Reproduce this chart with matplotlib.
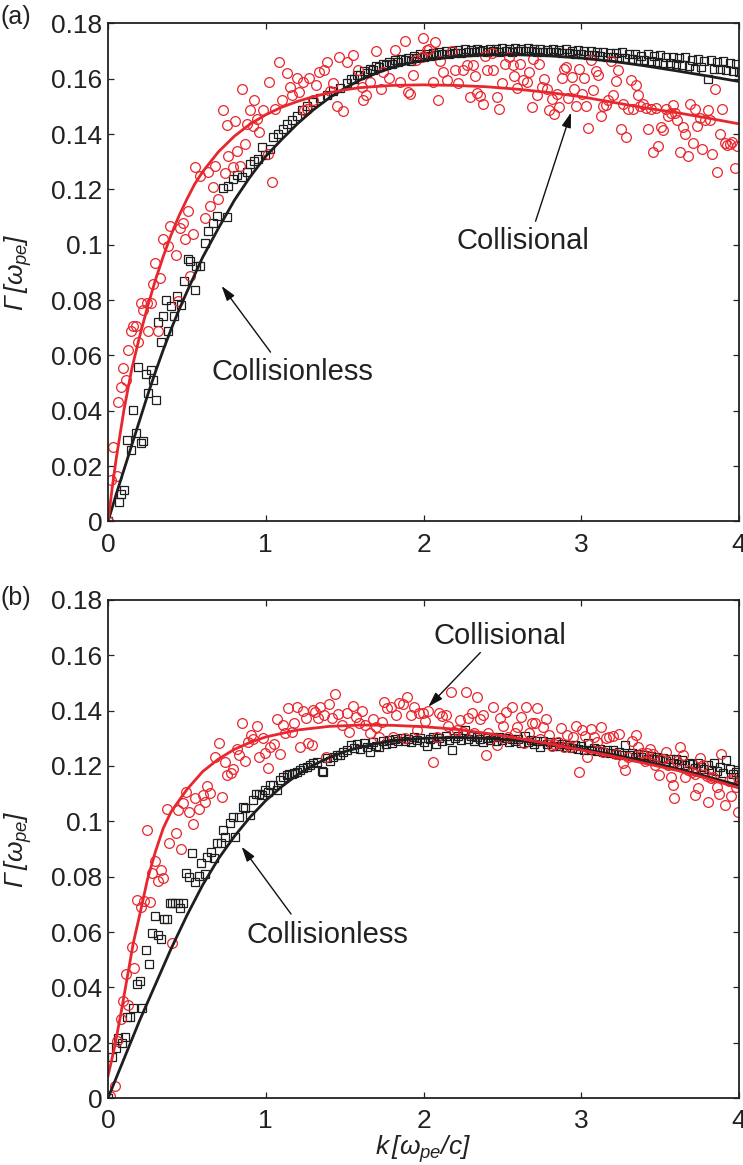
import matplotlib
matplotlib.use("Agg")
import matplotlib.pyplot as plt
from matplotlib.ticker import FixedLocator, FixedFormatter

plt.rcParams['font.family'] = ['Liberation Sans', 'DejaVu Sans']
# axis labels are all italic symbols, so the math "roman" face is the italic one
plt.rcParams['mathtext.fontset'] = 'custom'
plt.rcParams['mathtext.rm'] = 'Liberation Sans:italic'
plt.rcParams['mathtext.it'] = 'Liberation Sans:italic'
plt.rcParams['mathtext.bf'] = 'Liberation Sans:bold'

RED = '#e8262d'
BLACK = '#1e1e1e'

# ---------------------------------------------------------------- panel (a)
# fitted growth-rate curves
fit_a_free_k = [0, 0.05, 0.1, 0.15, 0.2, 0.25, 0.3, 0.35, 0.4, 0.45, 0.5, 0.6, 0.7,
                0.8, 0.9, 1.0, 1.1, 1.2, 1.3, 1.4, 1.5, 1.6, 1.7, 1.8, 1.9, 2.0,
                2.2, 2.4, 2.6, 2.8, 3.0, 3.2, 3.4, 3.6, 3.8, 4.0]
fit_a_free = [0, 0.0095, 0.0185, 0.0275, 0.0365, 0.0455, 0.054, 0.062, 0.0695, 0.0765,
              0.083, 0.0955, 0.106, 0.116, 0.1245, 0.132, 0.138, 0.1437, 0.1487, 0.153,
              0.1566, 0.1596, 0.162, 0.164, 0.1655, 0.1666, 0.168, 0.1686, 0.1687,
              0.1683, 0.1675, 0.1663, 0.1647, 0.1629, 0.161, 0.159]

fit_a_coll_k = [0, 0.025, 0.05, 0.1, 0.15, 0.2, 0.25, 0.3, 0.35, 0.4, 0.45, 0.5, 0.55,
                0.6, 0.7, 0.8, 0.9, 1.0, 1.1, 1.2, 1.3, 1.4, 1.5, 1.6, 1.8, 2.0, 2.2,
                2.4, 2.6, 2.8, 3.0, 3.2, 3.4, 3.6, 3.8, 4.0]
fit_a_coll = [0, 0.0115, 0.022, 0.040, 0.055, 0.0668, 0.0775, 0.0872, 0.0958, 0.1036,
              0.1105, 0.1165, 0.1220, 0.1264, 0.1336, 0.1392, 0.1436, 0.1470, 0.1497,
              0.1518, 0.1535, 0.1549, 0.1560, 0.1568, 0.1576, 0.1578, 0.1576, 0.1571,
              0.1562, 0.155, 0.1535, 0.1515, 0.1495, 0.1478, 0.1458, 0.1437]

# simulation points, collisionless (squares)
sim_a_free_k = [0.0, 0.070, 0.080, 0.101, 0.118, 0.148, 0.160, 0.175, 0.192, 0.211,
                0.224, 0.239, 0.254, 0.270, 0.287, 0.302, 0.317, 0.334, 0.351, 0.366,
                0.380, 0.397, 0.418, 0.440, 0.465, 0.482, 0.509, 0.520, 0.552, 0.556,
                0.583, 0.615, 0.636, 0.668, 0.689, 0.727, 0.755, 0.763, 0.794, 0.816,
                0.847, 0.879, 0.900, 0.926, 0.953, 0.974, 0.995, 1.027, 1.048, 1.080,
                1.107, 1.137, 1.164, 1.196, 1.228, 1.260, 1.301, 1.344, 1.386, 1.428,
                1.471, 1.513]
sim_a_free = [0.0, 0.0070, 0.0100, 0.0115, 0.0294, 0.0260, 0.0403, 0.0320, 0.0557, 0.0284,
              0.0290, 0.0534, 0.0463, 0.0546, 0.0512, 0.0439, 0.0720, 0.0647, 0.0742, 0.0802,
              0.0687, 0.0778, 0.0742, 0.0814, 0.0784, 0.0869, 0.0947, 0.0940, 0.0838, 0.0925,
              0.0923, 0.1008, 0.1050, 0.1080, 0.1105, 0.1204, 0.1099, 0.1213, 0.1238, 0.1252,
              0.1244, 0.1262, 0.1292, 0.1304, 0.1310, 0.1353, 0.1325, 0.1347, 0.1389, 0.1401,
              0.1419, 0.1437, 0.1450, 0.1467, 0.1486, 0.1502, 0.1516, 0.1531, 0.1543, 0.1555,
              0.1567, 0.1583]

# k grid of the dense part of the collisionless runs (both panels)
k_tail = [1.54, 1.56, 1.58, 1.60, 1.62, 1.64, 1.66, 1.68, 1.70, 1.72, 1.74, 1.76, 1.78,
          1.80, 1.82, 1.84, 1.86, 1.88, 1.90, 1.92, 1.94, 1.96, 1.98, 2.00, 2.02, 2.04,
          2.06, 2.08, 2.10, 2.12, 2.14, 2.16, 2.18, 2.20, 2.22, 2.24, 2.26, 2.28, 2.30,
          2.32, 2.34, 2.36, 2.38, 2.40, 2.42, 2.44, 2.46, 2.48, 2.50, 2.52, 2.54, 2.56,
          2.58, 2.60, 2.62, 2.64, 2.66, 2.68, 2.70, 2.72, 2.74, 2.76, 2.78, 2.80, 2.82,
          2.84, 2.86, 2.88, 2.90, 2.92, 2.94, 2.96, 2.98, 3.00, 3.02, 3.04, 3.06, 3.08,
          3.10, 3.12, 3.14, 3.16, 3.18, 3.20, 3.22, 3.24, 3.26, 3.28, 3.30, 3.32, 3.34,
          3.36, 3.38, 3.40, 3.42, 3.44, 3.46, 3.48, 3.50, 3.52, 3.54, 3.56, 3.58, 3.60,
          3.62, 3.64, 3.66, 3.68, 3.70, 3.72, 3.74, 3.76, 3.78, 3.80, 3.82, 3.84, 3.86,
          3.88, 3.90, 3.92, 3.94, 3.96, 3.98, 4.00]
sim_a_free_tail = [0.1600, 0.1598, 0.1615, 0.1612, 0.1628, 0.1622, 0.1637, 0.1633, 0.1645,
                   0.1641, 0.1652, 0.1648, 0.1660, 0.1655, 0.1667, 0.1660, 0.1672, 0.1668,
                   0.1676, 0.1664, 0.1681, 0.1675, 0.1688, 0.1679, 0.1690, 0.1683, 0.1694,
                   0.1686, 0.1697, 0.1688, 0.1700, 0.1690, 0.1701, 0.1692, 0.1703, 0.1694,
                   0.1706, 0.1697, 0.1704, 0.1695, 0.1708, 0.1699, 0.1705, 0.1696, 0.1709,
                   0.1700, 0.1706, 0.1698, 0.1711, 0.1701, 0.1707, 0.1697, 0.1710, 0.1702,
                   0.1708, 0.1699, 0.1712, 0.1700, 0.1706, 0.1697, 0.1709, 0.1698, 0.1705,
                   0.1696, 0.1707, 0.1695, 0.1704, 0.1693, 0.1706, 0.1692, 0.1701, 0.1690,
                   0.1703, 0.1688, 0.1699, 0.1687, 0.1702, 0.1685, 0.1696, 0.1683, 0.1698,
                   0.1680, 0.1694, 0.1679, 0.1692, 0.1676, 0.1695, 0.1674, 0.1688, 0.1671,
                   0.1691, 0.1668, 0.1684, 0.1666, 0.1688, 0.1664, 0.1681, 0.1661, 0.1685,
                   0.1658, 0.1677, 0.1656, 0.1680, 0.1652, 0.1674, 0.1650, 0.1677, 0.1647,
                   0.1669, 0.1636, 0.1672, 0.1643, 0.1664, 0.1600, 0.1666, 0.1637, 0.1660,
                   0.1634, 0.1663, 0.1631, 0.1656, 0.1628, 0.1652, 0.1626]

# simulation points, collisional (circles)
sim_a_coll_k = [0.000, 0.017, 0.034, 0.055, 0.065, 0.080, 0.097, 0.112, 0.127, 0.144,
                0.160, 0.180, 0.190, 0.207, 0.224, 0.245, 0.254, 0.270, 0.287, 0.298,
                0.317, 0.330, 0.347, 0.382, 0.393, 0.431, 0.444, 0.456, 0.477, 0.488,
                0.509, 0.520, 0.541, 0.552, 0.583, 0.615, 0.636, 0.647, 0.663, 0.678,
                0.700, 0.727, 0.742, 0.757, 0.763, 0.790, 0.805, 0.816, 0.837, 0.851,
                0.868, 0.879, 0.900, 0.917, 0.927, 0.943, 0.959, 0.985, 1.016, 1.023,
                1.038, 1.059, 1.086, 1.101, 1.133, 1.154, 1.164, 1.196, 1.213, 1.238,
                1.242, 1.259, 1.276, 1.301, 1.319, 1.338, 1.369, 1.386, 1.407, 1.428,
                1.449, 1.466, 1.491, 1.513, 1.555, 1.587, 1.608, 1.619, 1.636, 1.661,
                1.699, 1.728, 1.745, 1.783, 1.819, 1.851, 1.883, 1.904, 1.914, 1.935,
                1.952, 1.988, 1.995, 2.020, 2.037, 2.058, 2.073, 2.090, 2.105, 2.125,
                2.147, 2.179, 2.200, 2.221, 2.252, 2.274, 2.295, 2.312, 2.326, 2.341,
                2.358, 2.375, 2.390, 2.400, 2.432, 2.442, 2.464, 2.481, 2.496, 2.517,
                2.544, 2.569, 2.574, 2.590, 2.612, 2.629, 2.654, 2.671, 2.686, 2.696,
                2.718, 2.734, 2.749, 2.764, 2.781, 2.797, 2.813, 2.827, 2.844, 2.861,
                2.876, 2.891, 2.903, 2.918, 2.939, 2.954, 2.967, 2.988, 3.003, 3.017,
                3.030, 3.045, 3.060, 3.077, 3.093, 3.108, 3.123, 3.140, 3.157, 3.172,
                3.187, 3.203, 3.220, 3.235, 3.250, 3.267, 3.284, 3.298, 3.313, 3.330,
                3.347, 3.358, 3.372, 3.393, 3.410, 3.425, 3.440, 3.457, 3.474, 3.489,
                3.504, 3.521, 3.535, 3.552, 3.567, 3.580, 3.594, 3.609, 3.626, 3.643,
                3.658, 3.675, 3.689, 3.707, 3.721, 3.736, 3.753, 3.767, 3.785, 3.800,
                3.816, 3.831, 3.848, 3.862, 3.880, 3.894, 3.911, 3.926, 3.943, 3.958,
                3.975, 3.989]
sim_a_coll = [0.0000, 0.0149, 0.0270, 0.0163, 0.0430, 0.0487, 0.0554, 0.0512, 0.0621, 0.0687,
              0.0705, 0.0708, 0.0650, 0.0790, 0.0763, 0.0788, 0.0687, 0.0790, 0.0860, 0.0935,
              0.0690, 0.0880, 0.1020, 0.0996, 0.1068, 0.0962, 0.0796, 0.1062, 0.1080, 0.1020,
              0.1123, 0.0887, 0.1038, 0.1280, 0.1250, 0.1095, 0.1262, 0.1139, 0.1208, 0.1286,
              0.1165, 0.1486, 0.1260, 0.1434, 0.1322, 0.1280, 0.1446, 0.1340, 0.1286, 0.1564,
              0.1364, 0.1437, 0.1486, 0.1431, 0.1522, 0.1456, 0.1407, 0.1486, 0.1329, 0.1589,
              0.1226, 0.1492, 0.1661, 0.1522, 0.1619, 0.1570, 0.1540, 0.1601, 0.1553, 0.1589,
              0.1486, 0.1492, 0.1601, 0.1522, 0.1577, 0.1625, 0.1631, 0.1659, 0.1555, 0.1586,
              0.1502, 0.1680, 0.1482, 0.1661, 0.1685, 0.1631, 0.1570, 0.1525, 0.1540, 0.1589,
              0.1700, 0.1562, 0.1625, 0.1603, 0.1704, 0.1589, 0.1736, 0.1553, 0.1546, 0.1615,
              0.1667, 0.1680, 0.1746, 0.1704, 0.1707, 0.1589, 0.1734, 0.1522, 0.1664, 0.1623,
              0.1595, 0.1700, 0.1631, 0.1586, 0.1631, 0.1649, 0.1534, 0.1649, 0.1611, 0.1550,
              0.1538, 0.1510, 0.1683, 0.1631, 0.1692, 0.1631, 0.1534, 0.1492, 0.1583, 0.1655,
              0.1678, 0.1649, 0.1611, 0.1567, 0.1655, 0.1595, 0.1589, 0.1625, 0.1498, 0.1671,
              0.1543, 0.1652, 0.1570, 0.1598, 0.1562, 0.1486, 0.1526, 0.1474, 0.1546, 0.1498,
              0.1603, 0.1634, 0.1643, 0.1531, 0.1607, 0.1562, 0.1502, 0.1637, 0.1546, 0.1603,
              0.1502, 0.1422, 0.1667, 0.1558, 0.1627, 0.1613, 0.1465, 0.1502, 0.1506, 0.1522,
              0.1664, 0.1543, 0.1591, 0.1631, 0.1417, 0.1510, 0.1389, 0.1492, 0.1595, 0.1492,
              0.1579, 0.1543, 0.1502, 0.1510, 0.1494, 0.1419, 0.1492, 0.1335, 0.1494, 0.1356,
              0.1425, 0.1413, 0.1492, 0.1465, 0.1477, 0.1506, 0.1477, 0.1450, 0.1335, 0.1425,
              0.1401, 0.1322, 0.1510, 0.1368, 0.1492, 0.1429, 0.1458, 0.1347, 0.1450, 0.1486,
              0.1450, 0.1329, 0.1562, 0.1262, 0.1401, 0.1489, 0.1368, 0.1361, 0.1365, 0.1373,
              0.1277, 0.1356]

# ---------------------------------------------------------------- panel (b)
fit_b_free_k = [0, 0.1, 0.2, 0.3, 0.4, 0.5, 0.6, 0.7, 0.8, 0.9, 1.0, 1.1, 1.2, 1.3,
                1.4, 1.5, 1.6, 1.7, 1.8, 1.9, 2.0, 2.2, 2.4, 2.6, 2.8, 3.0, 3.2, 3.4,
                3.6, 3.8, 4.0]
fit_b_free = [0, 0.014, 0.028, 0.041, 0.054, 0.066, 0.077, 0.0865, 0.0945, 0.1015, 0.1075,
              0.1125, 0.1168, 0.1203, 0.123, 0.1252, 0.1268, 0.1281, 0.129, 0.1296, 0.13,
              0.1303, 0.13, 0.1292, 0.1279, 0.1262, 0.1241, 0.1217, 0.1191, 0.1161, 0.113]

fit_b_coll_k = [0.0, 0.04, 0.08, 0.12, 0.16, 0.2, 0.25, 0.3, 0.35, 0.4, 0.5, 0.6, 0.7,
                0.8, 0.9, 1.0, 1.2, 1.4, 1.6, 1.8, 2.0, 2.2, 2.4, 2.6, 2.8, 3.0, 3.2,
                3.4, 3.6, 3.8, 4.0]
fit_b_coll = [0.008, 0.018, 0.030, 0.043, 0.056, 0.066, 0.079, 0.089, 0.0975, 0.1035, 0.1115,
              0.118, 0.1225, 0.126, 0.1285, 0.1305, 0.133, 0.1343, 0.1348, 0.1347, 0.1342,
              0.1333, 0.1318, 0.13, 0.128, 0.1258, 0.1235, 0.121, 0.1185, 0.1155, 0.112]

sim_b_free_k = [0.000, 0.027, 0.049, 0.063, 0.091, 0.106, 0.122, 0.139, 0.160, 0.182,
                0.201, 0.217, 0.239, 0.260, 0.281, 0.296, 0.319, 0.338, 0.355, 0.376,
                0.393, 0.408, 0.423, 0.444, 0.456, 0.477, 0.493, 0.513, 0.535, 0.549,
                0.577, 0.592, 0.613, 0.630, 0.651, 0.672, 0.689, 0.714, 0.731, 0.742,
                0.773, 0.794, 0.805, 0.832, 0.858, 0.868, 0.900, 0.921, 0.940, 0.959,
                0.974, 0.995, 1.016, 1.027, 1.044, 1.069, 1.090, 1.111, 1.133, 1.150,
                1.164, 1.179, 1.196, 1.217, 1.238, 1.260, 1.280, 1.302, 1.323, 1.355,
                1.365, 1.386, 1.407, 1.428, 1.450, 1.471, 1.492, 1.513]
sim_b_free = [0.0000, 0.0147, 0.0180, 0.0216, 0.0200, 0.0219, 0.0292, 0.0292, 0.0326, 0.0412,
              0.0424, 0.0326, 0.0535, 0.0483, 0.0598, 0.0658, 0.0589, 0.0574, 0.0646, 0.0646,
              0.0704, 0.0706, 0.0704, 0.0706, 0.0686, 0.0704, 0.0815, 0.0798, 0.0887, 0.0782,
              0.0803, 0.0848, 0.0810, 0.0870, 0.0890, 0.0866, 0.0921, 0.0921, 0.0969, 0.0945,
              0.0993, 0.1017, 0.0945, 0.1017, 0.1053, 0.1047, 0.1023, 0.1077, 0.1100, 0.1099,
              0.1095, 0.1113, 0.1107, 0.1131, 0.1131, 0.1113, 0.1150, 0.1161, 0.1168, 0.1170,
              0.1172, 0.1174, 0.1180, 0.1186, 0.1192, 0.1198, 0.1204, 0.1210, 0.1216, 0.1183,
              0.1180, 0.1228, 0.1219, 0.1234, 0.1238, 0.1240, 0.1250, 0.1258]
sim_b_free_tail = [0.1275, 0.1266, 0.1279, 0.1262, 0.1282, 0.1268, 0.1252, 0.1285, 0.1273,
                   0.1270, 0.1290, 0.1281, 0.1294, 0.1284, 0.1298, 0.1289, 0.1302, 0.1291,
                   0.1298, 0.1286, 0.1306, 0.1295, 0.1301, 0.1288, 0.1272, 0.1299, 0.1305,
                   0.1280, 0.1302, 0.1291, 0.1308, 0.1295, 0.1256, 0.1301, 0.1310, 0.1293,
                   0.1330, 0.1298, 0.1307, 0.1290, 0.1304, 0.1296, 0.1288, 0.1302, 0.1295,
                   0.1306, 0.1291, 0.1306, 0.1293, 0.1300, 0.1286, 0.1298, 0.1290, 0.1296,
                   0.1283, 0.1310, 0.1288, 0.1294, 0.1281, 0.1292, 0.1270, 0.1289, 0.1279,
                   0.1286, 0.1274, 0.1285, 0.1271, 0.1280, 0.1268, 0.1277, 0.1265, 0.1276,
                   0.1262, 0.1272, 0.1259, 0.1282, 0.1257, 0.1266, 0.1253, 0.1262, 0.1250,
                   0.1259, 0.1247, 0.1256, 0.1244, 0.1252, 0.1240, 0.1276, 0.1238, 0.1247,
                   0.1234, 0.1244, 0.1231, 0.1240, 0.1227, 0.1236, 0.1224, 0.1233, 0.1221,
                   0.1230, 0.1217, 0.1226, 0.1210, 0.1224, 0.1206, 0.1220, 0.1203, 0.1212,
                   0.1206, 0.1192, 0.1209, 0.1198, 0.1190, 0.1204, 0.1185, 0.1210, 0.1181,
                   0.1197, 0.1176, 0.1222, 0.1190, 0.1172, 0.1180, 0.1160]

sim_b_coll_k = [0.013, 0.042, 0.059, 0.080, 0.097, 0.112, 0.127, 0.154, 0.165, 0.186,
                0.211, 0.228, 0.245, 0.264, 0.281, 0.298, 0.317, 0.334, 0.351, 0.372,
                0.389, 0.408, 0.431, 0.446, 0.465, 0.477, 0.494, 0.516, 0.541, 0.552,
                0.579, 0.600, 0.615, 0.630, 0.647, 0.678, 0.706, 0.721, 0.742, 0.757,
                0.778, 0.794, 0.816, 0.832, 0.847, 0.868, 0.889, 0.905, 0.921, 0.943,
                0.959, 0.981, 0.995, 1.016, 1.027, 1.052, 1.069, 1.090, 1.107, 1.124,
                1.143, 1.164, 1.179, 1.200, 1.217, 1.234, 1.255, 1.270, 1.291, 1.298,
                1.312, 1.333, 1.344, 1.369, 1.382, 1.403, 1.422, 1.439, 1.460, 1.481,
                1.513, 1.530, 1.551, 1.572, 1.593, 1.608, 1.629, 1.661, 1.678, 1.699,
                1.720, 1.735, 1.750, 1.771, 1.792, 1.809, 1.826, 1.847, 1.868, 1.883,
                1.897, 1.919, 1.940, 1.961, 1.974, 1.995, 2.010, 2.030, 2.062, 2.084,
                2.100, 2.115, 2.143, 2.157, 2.172, 2.193, 2.212, 2.231, 2.248, 2.267,
                2.284, 2.305, 2.320, 2.341, 2.358, 2.375, 2.396, 2.411, 2.442, 2.468,
                2.485, 2.502, 2.523, 2.538, 2.559, 2.580, 2.595, 2.616, 2.637, 2.650,
                2.671, 2.686, 2.707, 2.721, 2.739, 2.760, 2.777, 2.797, 2.813, 2.827,
                2.855, 2.870, 2.891, 2.908, 2.929, 2.950, 2.967, 2.984, 3.003, 3.024,
                3.038, 3.060, 3.081, 3.098, 3.123, 3.140, 3.157, 3.178, 3.203, 3.220,
                3.241, 3.263, 3.277, 3.298, 3.320, 3.347, 3.362, 3.383, 3.404, 3.419,
                3.436, 3.453, 3.468, 3.494, 3.516, 3.537, 3.552, 3.567, 3.584, 3.590,
                3.605, 3.626, 3.643, 3.660, 3.679, 3.700, 3.720, 3.721, 3.742, 3.753,
                3.774, 3.795, 3.800, 3.821, 3.837, 3.862, 3.870, 3.884, 3.910, 3.939,
                3.950, 3.958, 3.981, 3.995]
sim_b_coll = [0.0007, 0.0043, 0.0207, 0.0284, 0.0351, 0.0448, 0.0336, 0.0545, 0.0469, 0.0716,
              0.0689, 0.0713, 0.0969, 0.0707, 0.0812, 0.0858, 0.0785, 0.0824, 0.0794, 0.1044,
              0.0923, 0.0561, 0.0959, 0.1041, 0.0900, 0.1065, 0.1107, 0.1035, 0.0989, 0.1083,
              0.1044, 0.1095, 0.1070, 0.1128, 0.1104, 0.1234, 0.1284, 0.1089, 0.1216, 0.1168,
              0.1174, 0.1188, 0.1261, 0.1240, 0.1357, 0.1219, 0.1288, 0.1312, 0.1297, 0.1345,
              0.1234, 0.1302, 0.1246, 0.1192, 0.1270, 0.1280, 0.1369, 0.1244, 0.1348, 0.1321,
              0.1409, 0.1324, 0.1357, 0.1414, 0.1268, 0.1400, 0.1372, 0.1284, 0.1276, 0.1402,
              0.1396, 0.1372, 0.1414, 0.1384, 0.1234, 0.1424, 0.1372, 0.1460, 0.1388, 0.1348,
              0.1393, 0.1324, 0.1417, 0.1378, 0.1354, 0.1400, 0.1348, 0.1318, 0.1369, 0.1340,
              0.1304, 0.1360, 0.1432, 0.1409, 0.1414, 0.1306, 0.1384, 0.1427, 0.1424, 0.1300,
              0.1451, 0.1384, 0.1412, 0.1330, 0.1393, 0.1391, 0.1362, 0.1400, 0.1216, 0.1304,
              0.1393, 0.1381, 0.1384, 0.1345, 0.1469, 0.1324, 0.1330, 0.1366, 0.1324, 0.1469,
              0.1372, 0.1391, 0.1321, 0.1451, 0.1369, 0.1384, 0.1240, 0.1318, 0.1414, 0.1276,
              0.1372, 0.1345, 0.1396, 0.1306, 0.1412, 0.1318, 0.1340, 0.1378, 0.1282, 0.1412,
              0.1318, 0.1357, 0.1357, 0.1409, 0.1297, 0.1342, 0.1369, 0.1312, 0.1272, 0.1280,
              0.1288, 0.1336, 0.1270, 0.1312, 0.1268, 0.1306, 0.1345, 0.1179, 0.1330, 0.1309,
              0.1234, 0.1333, 0.1304, 0.1288, 0.1340, 0.1252, 0.1300, 0.1306, 0.1309, 0.1244,
              0.1316, 0.1212, 0.1186, 0.1234, 0.1292, 0.1312, 0.1270, 0.1248, 0.1219, 0.1246,
              0.1260, 0.1244, 0.1204, 0.1168, 0.1224, 0.1252, 0.1204, 0.1161, 0.1131, 0.1085,
              0.1219, 0.1270, 0.1240, 0.1159, 0.1186, 0.1179, 0.1095, 0.1171, 0.1120, 0.1228,
              0.1204, 0.1164, 0.1070, 0.1156, 0.1161, 0.1123, 0.1100, 0.1244, 0.1060, 0.1147,
              0.1090, 0.1152, 0.1123, 0.1035]

y_ticks = [0, 0.02, 0.04, 0.06, 0.08, 0.1, 0.12, 0.14, 0.16, 0.18]
y_tick_labels = ['0', '0.02', '0.04', '0.06', '0.08', '0.1', '0.12', '0.14', '0.16', '0.18']
x_ticks = [0, 1, 2, 3, 4]
x_tick_labels = ['0', '1', '2', '3', '4']


def style_axes(ax):
    ax.set_xlim(0, 4)
    ax.set_ylim(0, 0.18)
    ax.xaxis.set_major_locator(FixedLocator(x_ticks))
    ax.xaxis.set_major_formatter(FixedFormatter(x_tick_labels))
    ax.yaxis.set_major_locator(FixedLocator(y_ticks))
    ax.yaxis.set_major_formatter(FixedFormatter(y_tick_labels))
    ax.tick_params(direction='in', top=True, right=True, length=4.5, width=0.9,
                   labelsize=19, color='#222222', labelcolor='#222222')
    ax.tick_params(axis='x', pad=8)
    ax.tick_params(axis='y', pad=4)
    for s in ax.spines.values():
        s.set_linewidth(1.3)
        s.set_color('#222222')
    ax.set_ylabel(r'$\Gamma\,[\omega_{pe}]$', fontsize=19, color='#222222')
    ax.yaxis.set_label_coords(-0.118, 0.5)


def draw_panel(ax, free_k, free_g, coll_k, coll_g, fit_free_k, fit_free, fit_coll_k, fit_coll):
    ax.plot(free_k, free_g, ls='none', marker='s', ms=6, mfc='none', mec=BLACK, mew=0.9)
    ax.plot(coll_k, coll_g, ls='none', marker='o', ms=7, mfc='none', mec=RED, mew=0.9)
    ax.plot(fit_free_k, fit_free, color=BLACK, lw=2.0)
    ax.plot(fit_coll_k, fit_coll, color=RED, lw=2.0)
    style_axes(ax)


def label_arrow(ax, text, text_xy, tail, head):
    ax.text(text_xy[0], text_xy[1], text, fontsize=21, ha='center', va='center',
            color='#222222')
    ax.annotate('', xy=head, xytext=tail,
                arrowprops=dict(arrowstyle='-|>,head_length=0.9,head_width=0.28',
                                color='#111111', lw=1.0, shrinkA=0, shrinkB=0))


fig = plt.figure(figsize=(7.43, 11.65), dpi=100)
ax_a = fig.add_axes([0.1454, 0.5524, 0.8493, 0.4275])
ax_b = fig.add_axes([0.1454, 0.0575, 0.8493, 0.4275])

draw_panel(ax_a, sim_a_free_k + k_tail, sim_a_free + sim_a_free_tail,
           sim_a_coll_k, sim_a_coll, fit_a_free_k, fit_a_free, fit_a_coll_k, fit_a_coll)
draw_panel(ax_b, sim_b_free_k + k_tail, sim_b_free + sim_b_free_tail,
           sim_b_coll_k, sim_b_coll, fit_b_free_k, fit_b_free, fit_b_coll_k, fit_b_coll)

label_arrow(ax_a, 'Collisional', (2.63, 0.1013), (2.71, 0.1085), (2.935, 0.1478))
label_arrow(ax_a, 'Collisionless', (1.166, 0.0541), (1.03, 0.0612), (0.72, 0.0851))
label_arrow(ax_b, 'Collisional', (2.485, 0.1670), (2.36, 0.1610), (2.03, 0.1414))
label_arrow(ax_b, 'Collisionless', (1.388, 0.0589), (1.16, 0.0665), (0.847, 0.0908))

ax_b.set_xlabel(r'$k\,[\omega_{pe}/c]$', fontsize=19, color='#222222', labelpad=0)

fig.text(0.0, 0.9855, '(a)', fontsize=18, ha='left', va='center', color='#222222')
fig.text(0.0, 0.4865, '(b)', fontsize=18, ha='left', va='center', color='#222222')

fig.savefig('out.png', dpi=100)
